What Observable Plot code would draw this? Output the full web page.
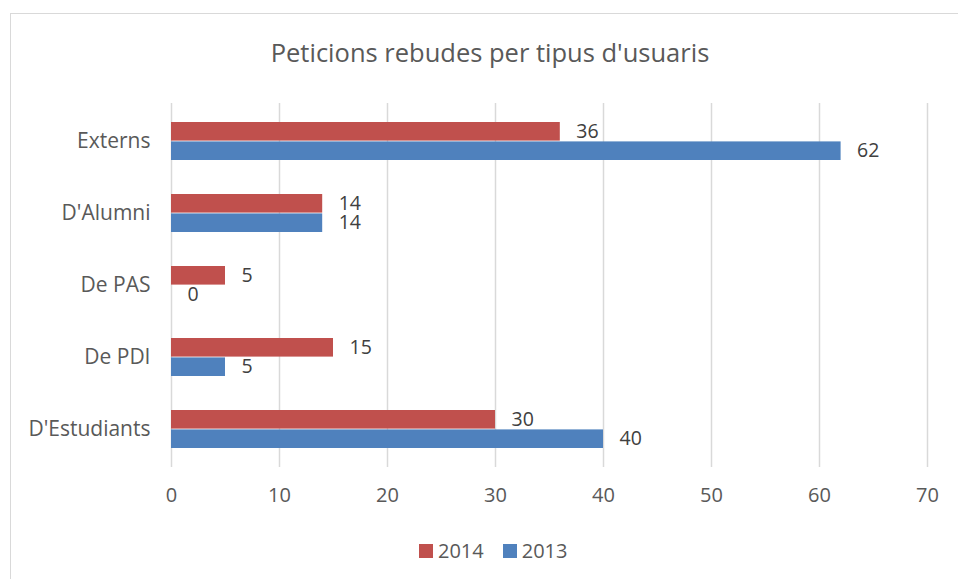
<!DOCTYPE html>
<html>
<head>
<meta charset="utf-8">
<script src="https://cdn.jsdelivr.net/npm/d3@7"></script>
<script src="https://cdn.jsdelivr.net/npm/@observablehq/plot@0.6"></script>
<style>
  html, body { margin: 0; padding: 0; background: #fff; overflow: hidden; width: 958px; height: 579px; }
  #wrap { position: relative; width: 958px; height: 579px; overflow: hidden; font-family: "Open Sans", sans-serif; color: #595959; }
  #frame { position: absolute; left: 10px; top: 13px; width: 1000px; height: 700px; border: 1.5px solid #d9d9d9; box-sizing: border-box; }
  #title { position: absolute; left: 10px; width: 960px; top: 34px; line-height: 36px; text-align: center; font-size: 25.5px; }
  #chart { position: absolute; left: 0; top: 0; }
  #legend { position: absolute; left: 419px; top: 539px; display: flex; align-items: center; font-size: 20px; line-height: 24px; }
  .sw { display: inline-block; width: 14px; height: 14px; margin-right: 5px; }
  .item { display: flex; align-items: center; margin-right: 19px; }
</style>
</head>
<body>
<div id="wrap">
  <div id="frame"></div>
  <div id="title">Peticions rebudes per tipus d'usuaris</div>
  <div id="chart"></div>
  <div id="legend"></div>
</div>
<script>
const categories = ["Externs", "D'Alumni", "De PAS", "De PDI", "D'Estudiants"];
const values2014 = [36, 14, 5, 15, 30];
const values2013 = [62, 14, 0, 5, 40];
const years = ["2014", "2013"];
const colors = ["#C0504D", "#4F81BD"];
const xTicks = [0, 10, 20, 30, 40, 50, 60, 70];

const data = categories.flatMap((c, i) => [
  {cat: c, year: "2014", value: values2014[i]},
  {cat: c, year: "2013", value: values2013[i]}
]);
const d14 = data.filter(d => d.year === "2014");
const d13 = data.filter(d => d.year === "2013");

const chart = Plot.plot({
  width: 958,
  height: 579,
  marginLeft: 171,
  marginRight: 31,
  marginTop: 103,
  marginBottom: 112,
  style: {fontFamily: "'Open Sans', sans-serif", fontSize: "20px", color: "#595959", background: "transparent", overflow: "visible"},
  x: {domain: [0, 70], label: null},
  y: {domain: categories, padding: 0, label: null},
  color: {domain: years, range: colors},
  marks: [
    Plot.ruleX(xTicks, {stroke: "#d9d9d9", strokeWidth: 1.5}),
    Plot.axisX({ticks: xTicks, tickSize: 0, tickPadding: 20, fontSize: 20, fill: "#595959", label: null}),
    Plot.axisY({tickSize: 0, tickPadding: 21, fontSize: 21, fill: "#595959", label: null}),
    Plot.barX(d14, {x: "value", y: "cat", fill: "year", insetTop: 17, insetBottom: 36.4}),
    Plot.barX(d13, {x: "value", y: "cat", fill: "year", insetTop: 36.4, insetBottom: 17}),
    Plot.text(d14, {x: "value", y: "cat", text: d => String(d.value), textAnchor: "start", dx: 16, dy: -9.5, fill: "#404040", fontSize: 19.5}),
    Plot.text(d13, {x: "value", y: "cat", text: d => String(d.value), textAnchor: "start", dx: 16, dy: 9.5, fill: "#404040", fontSize: 19.5})
  ]
});
document.getElementById("chart").appendChild(chart);

const legend = document.getElementById("legend");
years.forEach((y, i) => {
  const item = document.createElement("div");
  item.className = "item";
  const sw = document.createElement("span");
  sw.className = "sw";
  sw.style.background = colors[i];
  const t = document.createElement("span");
  t.textContent = y;
  item.appendChild(sw);
  item.appendChild(t);
  legend.appendChild(item);
});
</script>
</body>
</html>
